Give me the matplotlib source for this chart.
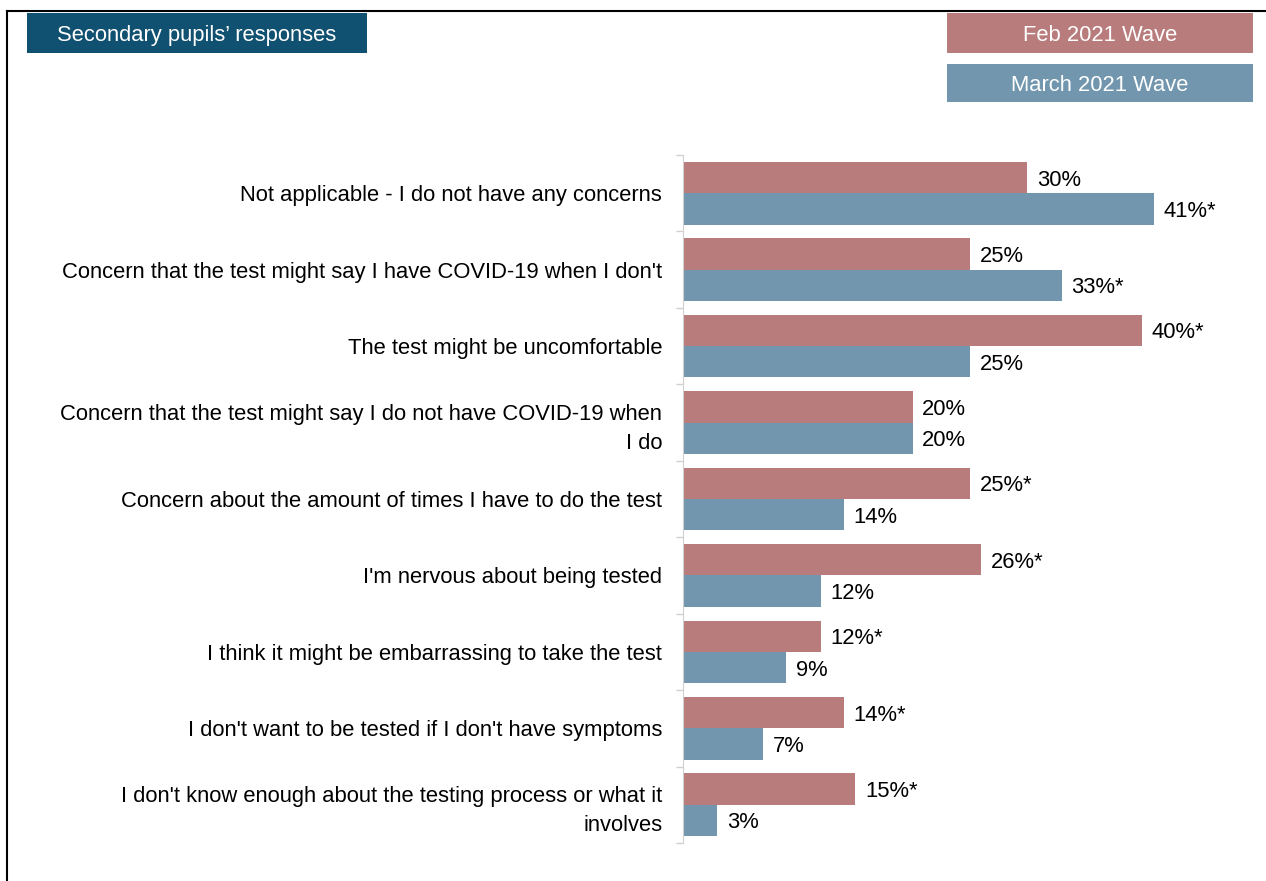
import matplotlib
matplotlib.use("Agg")
import matplotlib.pyplot as plt
from matplotlib.patches import Rectangle
from matplotlib.lines import Line2D

plt.rcParams['font.family'] = ['Liberation Sans', 'DejaVu Sans']

categories = [
    "Not applicable - I do not have any concerns",
    "Concern that the test might say I have COVID-19 when I don't",
    "The test might be uncomfortable",
    "Concern that the test might say I do not have COVID-19 when\nI do",
    "Concern about the amount of times I have to do the test",
    "I'm nervous about being tested",
    "I think it might be embarrassing to take the test",
    "I don't want to be tested if I don't have symptoms",
    "I don't know enough about the testing process or what it\ninvolves",
]
feb_values = [30, 25, 40, 20, 25, 26, 12, 14, 15]
feb_labels = ["30%", "25%", "40%*", "20%", "25%*", "26%*", "12%*", "14%*", "15%*"]
mar_values = [41, 33, 25, 20, 14, 12, 9, 7, 3]
mar_labels = ["41%*", "33%*", "25%", "20%", "14%", "12%", "9%", "7%", "3%"]
series_names = ["Feb 2021 Wave", "March 2021 Wave"]

PINK = "#B97C7D"
BLUE = "#7196AE"
NAVY = "#105070"
FS = 15.8

fig = plt.figure(figsize=(12.66, 8.81), dpi=100)
ax = fig.add_axes([683 / 1266, 1 - 843 / 881, 574 / 1266, (843 - 155) / 881])

pos = list(range(len(categories)))
h = 0.41
ax.barh([p - h / 2 for p in pos], feb_values, height=h, color=PINK)
ax.barh([p + h / 2 for p in pos], mar_values, height=h, color=BLUE)

# value labels, right of each bar
for p, v, lab in zip(pos, feb_values, feb_labels):
    ax.annotate(lab, (v, p - h / 2), xytext=(7, 0), textcoords="offset points",
                va="center_baseline", ha="left", fontsize=FS)
for p, v, lab in zip(pos, mar_values, mar_labels):
    ax.annotate(lab, (v, p + h / 2), xytext=(7, 0), textcoords="offset points",
                va="center_baseline", ha="left", fontsize=FS)

ax.set_xlim(0, 50)
ax.set_ylim(len(categories) - 0.5, -0.5)
ax.set_yticks(pos)
ax.set_yticklabels(categories, fontsize=FS, linespacing=1.48)
ax.set_yticks([p - 0.5 for p in range(len(categories) + 1)], minor=True)
ax.tick_params(axis="y", which="major", length=0, pad=15)
ax.tick_params(axis="y", which="minor", length=5, color="#d0d0d0", width=1)
ax.set_xticks([])
for s in ["top", "right", "bottom"]:
    ax.spines[s].set_visible(False)
ax.spines["left"].set_color("#d0d0d0")

# frame lines (left and top)
fig.add_artist(Line2D([7 / 1266, 7 / 1266], [0, 1 - 11 / 881], color="black", lw=1.5))
fig.add_artist(Line2D([7 / 1266, 1], [1 - 11 / 881, 1 - 11 / 881], color="black", lw=1.5))

def box(x0, y0, x1, y1, color, text):
    fig.add_artist(Rectangle((x0 / 1266, 1 - y1 / 881), (x1 - x0) / 1266, (y1 - y0) / 881,
                             transform=fig.transFigure, color=color, lw=0))
    fig.text((x0 + x1) / 2 / 1266, 1 - (y0 + y1) / 2 / 881, text, color="white",
             ha="center", va="center_baseline", fontsize=FS)

box(27, 13, 367, 53, NAVY, "Secondary pupils\u2019 responses")
box(947, 13, 1253, 53, PINK, series_names[0])
box(947, 64, 1253, 102, BLUE, series_names[1])

fig.savefig("out.png", dpi=100)
